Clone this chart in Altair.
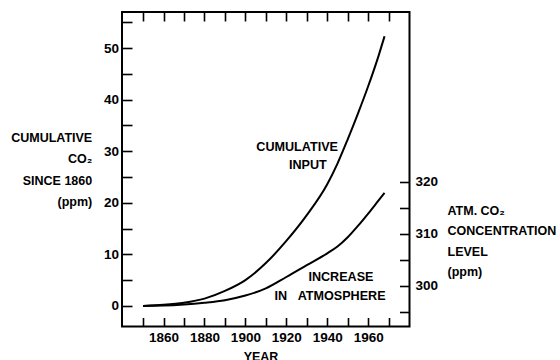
import altair as alt
import pandas as pd

# ---- data ----
years_input = [1850, 1860, 1870, 1880, 1890, 1900, 1910, 1920, 1930, 1940, 1945, 1950, 1955, 1960, 1965, 1968]
cum_input = [0, 0.2, 0.6, 1.4, 2.9, 5.0, 8.3, 12.6, 17.6, 23.6, 27.6, 32.3, 37.3, 42.6, 48.4, 52.3]

years_atm = [1850, 1860, 1870, 1880, 1890, 1900, 1910, 1920, 1930, 1940, 1945, 1950, 1955, 1960, 1965, 1968]
atm_increase = [0, 0.05, 0.25, 0.6, 1.1, 2.0, 3.4, 5.6, 7.9, 10.2, 11.5, 13.3, 15.5, 17.9, 20.4, 21.9]

ann_text = ["CUMULATIVE", "INPUT", "INCREASE", "IN\u00a0\u00a0\u00a0ATMOSPHERE"]
ann_year = [1925.3, 1930.5, 1946.7, 1941.4]
ann_value = [30.9, 27.3, 5.6, 1.9]

x_ticks = [1850, 1860, 1870, 1880, 1890, 1900, 1910, 1920, 1930, 1940, 1950, 1960, 1970]
left_ticks = [0, 5, 10, 15, 20, 25, 30, 35, 40, 45, 50, 55]
right_ticks = [295, 300, 305, 310, 315, 320]

left_title = ["CUMULATIVE", "CO\u2082", "SINCE 1860", "(ppm)"]
right_title = ["ATM. CO\u2082", "CONCENTRATION", "LEVEL", "(ppm)"]

FONT = "Liberation Sans"

df_input = pd.DataFrame({"year": years_input, "value": cum_input})
df_atm = pd.DataFrame({"year": years_atm, "value": atm_increase})
df_ann = pd.DataFrame({"year": ann_year, "value": ann_value, "text": ann_text})
df_carrier = pd.DataFrame({"year": x_ticks[:len(right_ticks)], "ppm": right_ticks})

xscale = alt.Scale(domain=[1839.7, 1980.2], nice=False, zero=False)
yscale = alt.Scale(domain=[-4.0, 57.0], nice=False, zero=False)
rscale = alt.Scale(domain=[292.2, 352.6], nice=False, zero=False)

common_axis = dict(
    domain=False, grid=False, tickColor="black", tickWidth=1.6,
    labelFont=FONT, labelFontSize=13.5, labelColor="black", labelFontWeight="bold",
    titleFont=FONT, titleFontWeight="bold", titleColor="black",
    labelFlush=False, labelOverlap=False,
)

x_bottom = alt.X(
    "year:Q", scale=xscale,
    axis=alt.Axis(
        orient="bottom", values=x_ticks, offset=-9, tickSize=9, format="d",
        labelExpr="(datum.value % 20 == 0 && datum.value >= 1860 && datum.value <= 1960) ? datum.label : ''",
        labelPadding=4, title="YEAR", titleFontSize=12.5, titleX=138.5, titleY=38.5,
        titleBaseline="middle", titleAlign="center", **common_axis,
    ),
)

y_left = alt.Y(
    "value:Q", scale=yscale,
    axis=alt.Axis(
        orient="left", values=left_ticks, offset=-10, tickSize=10,
        labelExpr="datum.value % 10 == 0 ? datum.label : ''", labelPadding=3.5,
        title=left_title, titleAngle=0, titleAlign="right", titleBaseline="middle",
        titleX=-40.3, titleY=125, titleLineHeight=21.5, titleFontSize=12.5,
        **common_axis,
    ),
)

line_input = alt.Chart(df_input).mark_line(
    color="black", strokeWidth=2, interpolate="monotone"
).encode(x=x_bottom, y=y_left)

line_atm = alt.Chart(df_atm).mark_line(
    color="black", strokeWidth=2, interpolate="monotone"
).encode(x=x_bottom, y=y_left)

texts = alt.Chart(df_ann).mark_text(
    font=FONT, fontSize=12.6, fontWeight="bold", color="black",
    align="center", baseline="middle"
).encode(x=x_bottom, y=y_left, text="text:N")

inner = alt.layer(line_input, line_atm, texts)

carrier = alt.Chart(df_carrier).mark_point(opacity=0).encode(
    x=alt.X(
        "year:Q", scale=xscale,
        axis=alt.Axis(orient="top", values=x_ticks, offset=-9, tickSize=9,
                      labels=False, title=None, **common_axis),
    ),
    y=alt.Y(
        "ppm:Q", scale=rscale,
        axis=alt.Axis(
            orient="right", values=right_ticks, offset=-10, tickSize=10,
            labelExpr="datum.value % 10 == 0 ? datum.label : ''", labelPadding=5.5,
            title=right_title, titleAngle=0, titleAlign="left", titleBaseline="middle",
            titleX=47.5, titleY=198, titleLineHeight=20.5, titleFontSize=12.5,
            **common_axis,
        ),
    ),
)

chart = alt.layer(inner, carrier).resolve_scale(
    x="independent", y="independent"
).properties(
    width=287.5, height=314.5,
    autosize=alt.AutoSizeParams(type="none"),
    padding={"left": 122, "top": 12, "right": 150.5, "bottom": 33.5},
    background="white",
).configure_view(stroke="black", strokeWidth=2)

chart.save("out.html", embed_options={"renderer": "svg", "actions": False})
